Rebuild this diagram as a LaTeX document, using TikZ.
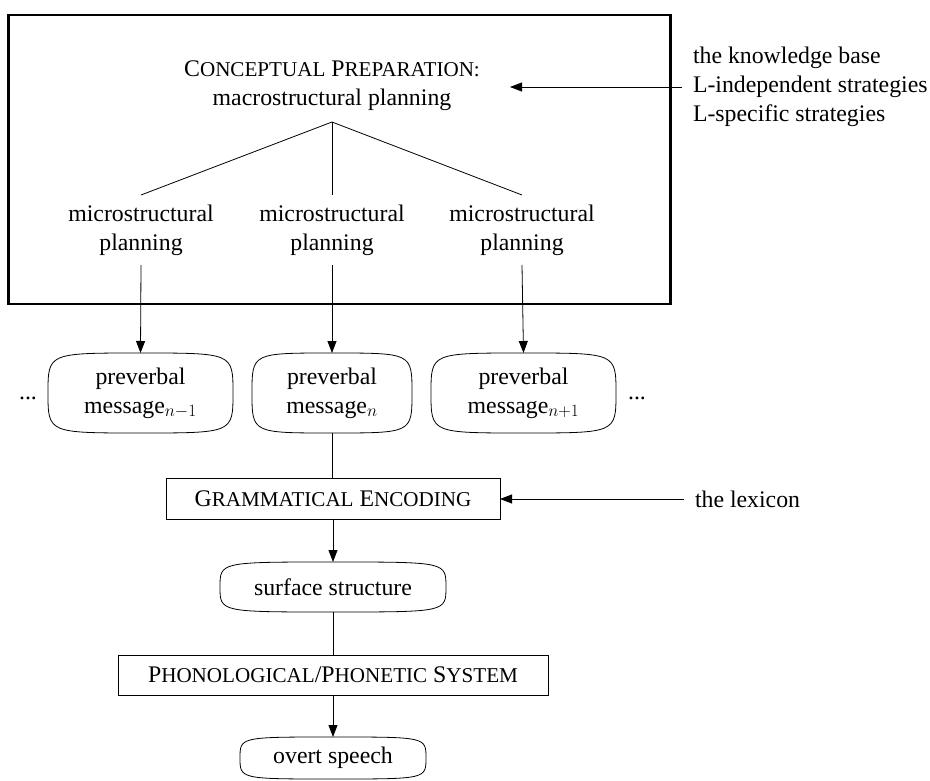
\documentclass[tikz,border=0pt]{standalone}
\usepackage{fontspec}
\setmainfont{Liberation Serif}
\usetikzlibrary{arrows.meta}
\newcommand\scx[1]{{\fontsize{21.1}{24}\selectfont #1}}
\newcommand\bowbox[1]{%
\draw[ln] (#1.north) .. controls (#1.north east) .. (#1.east)
  .. controls (#1.south east) .. (#1.south)
  .. controls (#1.south west) .. (#1.west)
  .. controls (#1.north west) .. (#1.north) -- cycle;}
\begin{document}
\begin{tikzpicture}[x=1pt,y=-1pt,
  font=\fontsize{23.8}{29}\selectfont,
  every node/.style={inner sep=0pt, outer sep=0pt},
  arr/.style={-{Triangle[length=12pt,width=9pt]}, line width=0.8pt},
  ln/.style={line width=0.8pt},
  rbox/.style={align=center},
  sbox/.style={draw, line width=0.8pt, align=center},
  txt/.style={align=center}]
\useasboundingbox (0,0) rectangle (930,781);
% big frame
\node[draw, line width=2.3pt, minimum width=662pt, minimum height=289pt] (frame) at (339.5,159.5) {};
% macro planning
\node[txt, minimum height=72pt] (macro) at (332,86) {C\scx{ONCEPTUAL} P\scx{REPARATION:}\\macrostructural planning};
% right text
\node[align=left, anchor=west, inner xsep=11pt] (kb) at (682,87) {the knowledge base\\L-independent strategies\\L-specific strategies};
\coordinate (kbtip) at (510,87);
\draw[arr] (kb.west) -- (kbtip);
% micro nodes
\node[txt, minimum height=70pt] (m1) at (141,230) {microstructural\\planning};
\node[txt, minimum height=70pt] (m2) at (332,230) {microstructural\\planning};
\node[txt, minimum height=70pt] (m3) at (522,230) {microstructural\\planning};
\draw[ln] (macro.south) -- (m1.north);
\draw[ln] (macro.south) -- (m2.north);
\draw[ln] (macro.south) -- (m3.north);
% preverbal messages
\node[rbox, minimum width=185pt, minimum height=80pt] (p1) at (140.5,393) {preverbal\\message$_{n-1}$};
\node[rbox, minimum width=160pt, minimum height=80pt] (p2) at (332,393) {preverbal\\message$_{n}$};
\node[rbox, minimum width=185pt, minimum height=80pt] (p3) at (523.5,393) {preverbal\\message$_{n+1}$};
\bowbox{p1}
\bowbox{p2}
\bowbox{p3}
\node (dl) at (28,398) {...};
\node (dr) at (637,398) {...};
\draw[arr] (m1.south) -- (p1.north);
\draw[arr] (m2.south) -- (p2.north);
\draw[arr] (m3.south) -- (p3.north);
% grammatical encoding
\node[sbox, minimum width=334pt, minimum height=41pt] (ge) at (333,498.5) {G\scx{RAMMATICAL} E\scx{NCODING}};
\node[anchor=west, inner xsep=11pt] (lex) at (684,499) {the lexicon};
\draw[ln] (p2.south) -- (p2.south |- ge.north);
\draw[arr] (lex.west) -- (ge.east |- lex.west);
% surface structure
\node[rbox, minimum width=226pt, minimum height=50pt] (ss) at (333,587) {surface structure};
\bowbox{ss}
\draw[arr] (ge.south) -- (ss.north);
% phonological
\node[sbox, minimum width=430pt, minimum height=40pt] (ph) at (333,675) {P\scx{HONOLOGICAL}/P\scx{HONETIC} S\scx{YSTEM}};
\draw[ln] (ss.south) -- (ph.north);
% overt speech
\node[rbox, minimum width=186pt, minimum height=42pt] (os) at (333,758) {overt speech};
\bowbox{os}
\draw[arr] (ph.south) -- (os.north);
\end{tikzpicture}
\end{document}
